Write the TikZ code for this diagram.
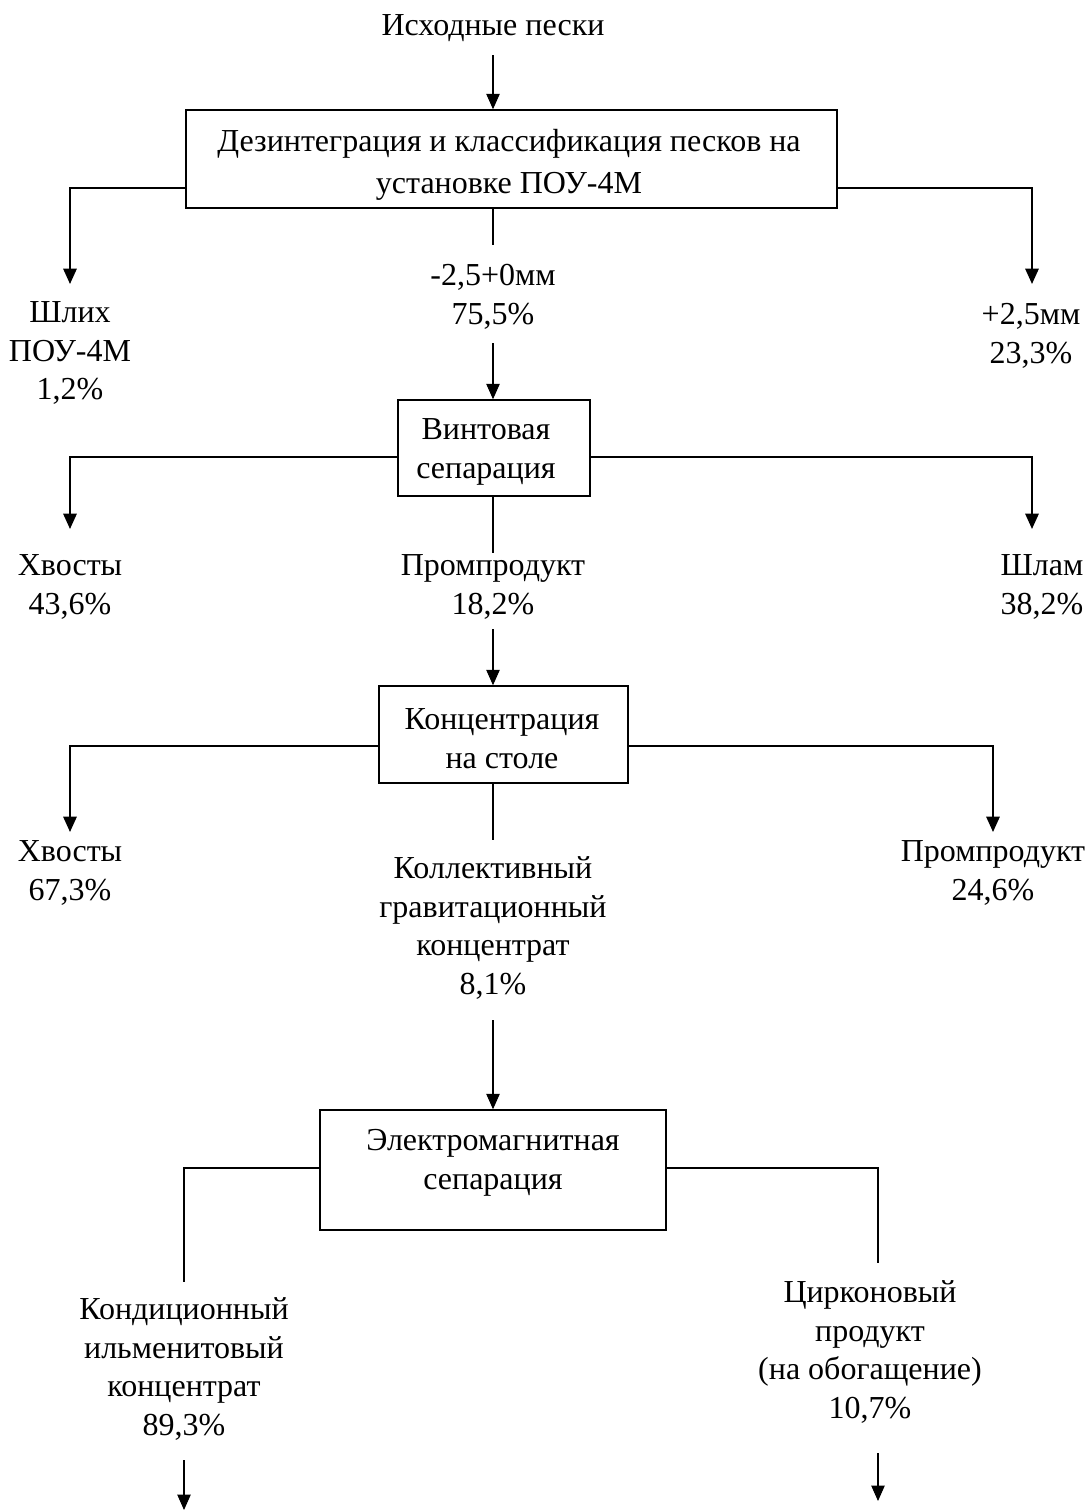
\documentclass[tikz,border=0pt]{standalone}
\usepackage{fontspec}
\setmainfont{Liberation Serif}
\usetikzlibrary{arrows.meta}
\begin{document}
\begin{tikzpicture}[x=0.75pt,y=-0.75pt,
  every node/.style={font=\fontsize{24}{29}\selectfont, align=center, inner sep=0pt},
  box/.style={draw, line width=1.1pt},
  thin/.style={line width=0.8pt},
  branch/.style={line width=1.4pt},
  arr/.style={-{Triangle[length=11.5pt,width=10pt]}},
]
\useasboundingbox (0,0) rectangle (1085,1510);

% texts
\node (src) at (493,28) {Исходные пески};
\node (t1l) at (70,353) {Шлих\\ПОУ-4М\\1,2\%};
\node (t1c) at (493,297) {-2,5+0мм\\75,5\%};
\node (t1r) at (1031,336) {+2,5мм\\23,3\%};
\node (t2l) at (70,587) {Хвосты\\43,6\%};
\node (t2c) at (493,587) {Промпродукт\\18,2\%};
\node (t2r) at (1042,587) {Шлам\\38,2\%};
\node (t3l) at (70,873) {Хвосты\\67,3\%};
\node (t3c) at (493,928) {Коллективный\\гравитационный\\концентрат\\8,1\%};
\node (t3r) at (993,873) {Промпродукт\\24,6\%};
\node (t4l) at (184,1369) {Кондиционный\\ильменитовый\\концентрат\\89,3\%};
\node (t4r) at (870,1352) {Цирконовый\\продукт\\(на обогащение)\\10,7\%};

% boxes
\node[box, minimum width=488.25pt, minimum height=73.5pt] (b1) at (511.5,159) {};
\node (b1t) at (509,165) {Дезинтеграция и классификация песков на\\[2pt]установке ПОУ-4М};
\node[box, minimum width=144pt, minimum height=72pt] (b2) at (494,448) {};
\node (b2t) at (486,452) {Винтовая\\сепарация};
\node[box, minimum width=186.75pt, minimum height=72.75pt] (b3) at (503.5,734.5) {};
\node (b3t) at (502,739) {Концентрация\\на столе};
\node[box, minimum width=259.5pt, minimum height=90pt] (b4) at (493,1170) {};
\node (b4t) at (493,1163) {Электромагнитная\\сепарация};

% coordinates
\coordinate (S1) at (493,55);
\coordinate (L1) at (70,188);   \coordinate (L1e) at (70,284);
\coordinate (R1) at (1032,188); \coordinate (R1e) at (1032,284);
\coordinate (C1) at (493,245);  \coordinate (C1a) at (493,343);
\coordinate (L2) at (70,457);   \coordinate (L2e) at (70,529);
\coordinate (R2) at (1032,457); \coordinate (R2e) at (1032,529);
\coordinate (C2) at (493,553);  \coordinate (C2a) at (493,629);
\coordinate (L3) at (70,746);   \coordinate (L3e) at (70,832);
\coordinate (R3) at (993,746);  \coordinate (R3e) at (993,832);
\coordinate (C3) at (493,840);  \coordinate (C3a) at (493,1020);
\coordinate (L4) at (184,1168); \coordinate (L4e) at (184,1282);
\coordinate (R4) at (878,1168); \coordinate (R4e) at (878,1263);
\coordinate (B1s) at (184,1460); \coordinate (B1e) at (184,1510);
\coordinate (B2s) at (878,1453); \coordinate (B2e) at (878,1501);

% stage 1
\draw[thin,arr] (S1) -- (S1 |- b1.north);
\draw[branch,arr] (b1.west |- L1) -- (L1) -- (L1e);
\draw[branch,arr] (b1.east |- R1) -- (R1) -- (R1e);
\draw[thin] (C1 |- b1.south) -- (C1);
\draw[thin,arr] (C1a) -- (C1a |- b2.north);

% stage 2
\draw[branch,arr] (b2.west |- L2) -- (L2) -- (L2e);
\draw[branch,arr] (b2.east |- R2) -- (R2) -- (R2e);
\draw[thin] (C2 |- b2.south) -- (C2);
\draw[thin,arr] (C2a) -- (C2a |- b3.north);

% stage 3
\draw[branch,arr] (b3.west |- L3) -- (L3) -- (L3e);
\draw[branch,arr] (b3.east |- R3) -- (R3) -- (R3e);
\draw[thin] (C3 |- b3.south) -- (C3);
\draw[thin,arr] (C3a) -- (C3a |- b4.north);

% stage 4
\draw[thin] (b4.west |- L4) -- (L4) -- (L4e);
\draw[thin] (b4.east |- R4) -- (R4) -- (R4e);
\draw[thin,arr] (B1s) -- (B1e);
\draw[thin,arr] (B2s) -- (B2e);
\end{tikzpicture}
\end{document}
